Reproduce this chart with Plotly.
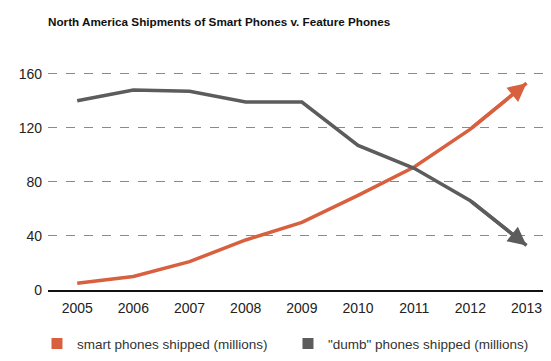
import plotly.graph_objects as go

years = ["2005", "2006", "2007", "2008", "2009", "2010", "2011", "2012", "2013"]
smart = [5, 10, 21, 37, 50, 70, 91, 119, 153]
dumb = [140, 148, 147, 139, 139, 107, 90, 66, 33]
y_ticks = [0, 40, 80, 120, 160]

SMART_C = "#d9603e"
DUMB_C = "#5c5c5c"
FONT = "Liberation Sans, Arial, sans-serif"

fig = go.Figure()
for name, vals, col in [
    ("smart phones shipped (millions)", smart, SMART_C),
    ('"dumb" phones shipped (millions)', dumb, DUMB_C),
]:
    fig.add_trace(go.Scatter(
        x=years, y=vals, mode="lines",
        line=dict(color=col, width=3.5),
        cliponaxis=False, showlegend=False, hoverinfo="skip",
    ))
    fig.add_trace(go.Scatter(
        x=[None], y=[None], mode="markers", name=name,
        marker=dict(symbol="square", size=11, color=col),
    ))
    # arrowhead on the final segment, taken from the last two data points
    last = len(years) - 1
    fig.add_annotation(
        x=last, y=vals[-1], ax=last - 1, ay=vals[-2],
        xref="x", yref="y", axref="x", ayref="y",
        text="", showarrow=True, arrowhead=2, arrowsize=1.05,
        arrowwidth=3.5, arrowcolor=col, standoff=0, startstandoff=0,
    )

fig.update_layout(
    width=551, height=361,
    margin=dict(l=40, r=10, t=63, b=73),
    paper_bgcolor="white", plot_bgcolor="white",
    font=dict(family=FONT, size=14, color="#222"),
    title=dict(text="<b>North America Shipments of Smart Phones v. Feature Phones</b>",
               x=40 / 551, xanchor="left", xref="container",
               y=1 - 14 / 361, yanchor="middle", yref="container",
               font=dict(size=11.7, color="#111", family=FONT)),
    xaxis=dict(type="category", range=[-0.52, 8.4], showgrid=False,
               showline=True, linecolor="#111", linewidth=1.5,
               ticks="", ticklabelstandoff=4, tickfont=dict(size=14, color="#222"),
               zeroline=False),
    yaxis=dict(range=[0, 162], tickvals=y_ticks, showgrid=True,
               gridcolor="#8a8a8a", griddash="dash", gridwidth=1,
               zeroline=False, showline=False, ticks="",
               ticklabelstandoff=5, tickfont=dict(size=14, color="#222")),
    legend=dict(orientation="h", x=-0.022, xanchor="left", y=-0.245, yanchor="middle",
                font=dict(size=13.5, color="#333"), entrywidth=206,
                itemclick=False, bgcolor="rgba(0,0,0,0)"),
)

fig.write_html("out.html")
